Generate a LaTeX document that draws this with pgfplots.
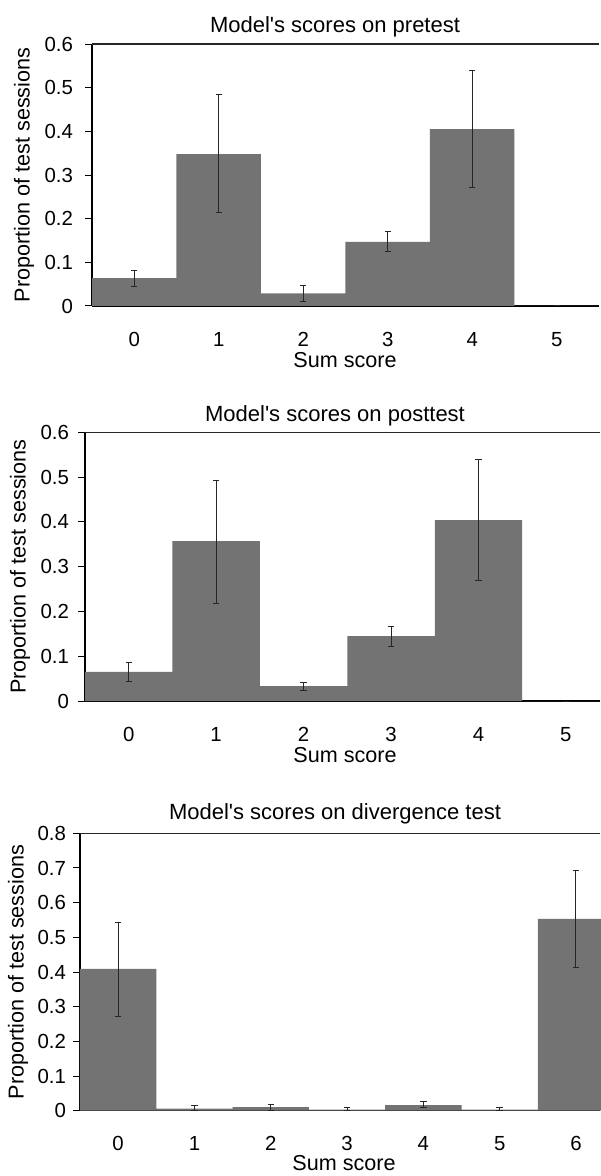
\documentclass[border=0pt]{standalone}
\usepackage{fontspec}
\setmainfont{Liberation Sans}
\usepackage{pgfplots}
\usepackage{pgfplotstable}
\pgfplotsset{compat=1.18}

\definecolor{barg}{HTML}{737373}
\definecolor{errg}{HTML}{262626}

% score, proportion, error up, error down
\pgfplotstableread{
x y ep em
0 0.064 0.017 0.020
1 0.348 0.137 0.135
2 0.029 0.017 0.018
3 0.147 0.023 0.023
4 0.405 0.134 0.133
5 0.000 0.000 0.000
}\pretest

\pgfplotstableread{
x y ep em
0 0.065 0.021 0.021
1 0.357 0.136 0.139
2 0.033 0.009 0.009
3 0.145 0.022 0.023
4 0.404 0.135 0.135
5 0.000 0.000 0.000
}\posttest

\pgfplotstableread{
x y ep em
0 0.409 0.133 0.136
1 0.006 0.010 0.006
2 0.010 0.009 0.008
3 0.003 0.005 0.003
4 0.016 0.012 0.008
5 0.003 0.005 0.003
6 0.553 0.139 0.139
}\divergence

\pgfplotsset{
  scorebars/.style={
    scale only axis,
    axis x line*=bottom, axis y line*=left,
    axis line style={black, line width=0.6pt},
    ymin=0, ytick distance=0.1,
    xtick={0,...,6}, xtick style={draw=none},
    minor xtick={-0.5,0.5,...,6.5},
    tick align=outside,
    major tick length=3.5pt, minor tick length=3.5pt,
    every tick/.style={black, line width=0.5pt},
    tick label style={font=\fontsize{10.2}{12}\selectfont},
    /pgf/number format/assume math mode=true,
    yticklabel style={/pgf/number format/fixed, /pgf/number format/precision=1, anchor=east},
    xticklabel style={anchor=base, yshift=-16.5pt, inner sep=0.5pt},
    ylabel={Proportion of test sessions},
    ylabel style={font=\fontsize{10.8}{13}\selectfont, at={(axis description cs:0,0.5)}, anchor=center},
    clip=false,
  },
  scorebar/.style={
    ybar, bar width=1, fill=barg, draw=none,
    error bars/.cd, y dir=both, y explicit,
    error bar style={errg, line width=0.5pt},
    error mark options={errg, rotate=90, mark size=1.6pt, line width=0.5pt},
  },
}
\tikzset{heading/.style={anchor=base, inner sep=0.5pt, font=\fontsize{11}{13}\selectfont}}

\begin{document}
\begin{tikzpicture}
\useasboundingbox (0,0) rectangle (300pt,-588pt);

% pretest
\begin{axis}[scorebars, at={(46pt,-153pt)}, anchor=south west,
    width=253.5pt, height=131pt, xmin=-0.5, xmax=5.5, ymax=0.6,
    ylabel style={yshift=34pt}, yticklabel style={xshift=-2.5pt}]
  \addplot[scorebar] table[x=x, y=y, y error plus=ep, y error minus=em] {\pretest};
  \draw[line width=0.6pt, black!85] (rel axis cs:0,1) -- (rel axis cs:1,1);
\end{axis}
\node[heading] at (167.5pt,-16.5pt) {Model\textquotesingle s scores on pretest};
\node[heading, font=\fontsize{10.8}{13}\selectfont] at (172.5pt,-183.5pt) {Sum score};

% posttest
\begin{axis}[scorebars, at={(42.5pt,-350.5pt)}, anchor=south west,
    width=257.5pt, height=134.35pt, xmin=-0.5, xmax=5.39, ymax=0.6,
    ylabel style={yshift=32.5pt}, yticklabel style={xshift=-1pt}]
  \addplot[scorebar] table[x=x, y=y, y error plus=ep, y error minus=em] {\posttest};
  \draw[line width=0.6pt, black!85] (rel axis cs:0,1) -- (rel axis cs:1,1);
\end{axis}
\node[heading] at (167.5pt,-210.8pt) {Model\textquotesingle s scores on posttest};
\node[heading, font=\fontsize{10.8}{13}\selectfont] at (172.5pt,-381.3pt) {Sum score};

% divergence test
\begin{axis}[scorebars, at={(40pt,-555.35pt)}, anchor=south west,
    width=260pt, height=138.7pt, xmin=-0.5, xmax=6.315, ymax=0.8,
    ylabel style={yshift=31pt}]
  \addplot[scorebar] table[x=x, y=y, y error plus=ep, y error minus=em] {\divergence};
  \draw[line width=0.6pt, black!85] (rel axis cs:0,1) -- (rel axis cs:1,1);
\end{axis}
\node[heading] at (167.5pt,-409.7pt) {Model\textquotesingle s scores on divergence test};
\node[heading, font=\fontsize{10.8}{13}\selectfont] at (172pt,-585.3pt) {Sum score};
\end{tikzpicture}
\end{document}
